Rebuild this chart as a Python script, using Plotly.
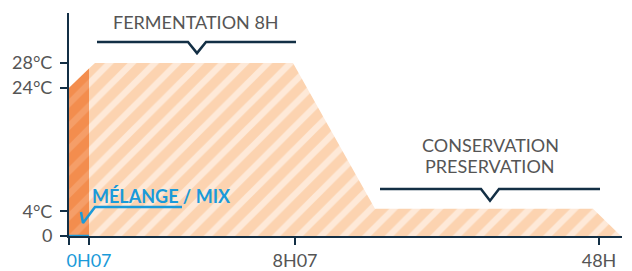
import plotly.graph_objects as go

# ---- data (schematic time positions, temperatures in °C) ----
mix_x = [0, 1.0]
mix_t = [24, 27.1]
profile_x = [1.0, 1.3, 11.2, 15.3, 26.2, 27.6]
profile_t = [27.1, 28, 28, 4.4, 4.4, 0]

x_tickvals = [0, 1.0, 11.3, 26.5]
x_ticktext = ["", "0H07", "8H07", "48H"]
y_tickvals = [0, 4, 24, 28]
y_ticktext = ["0", "4°C", "24°C", "28°C"]

ferm_bracket_x = [1.4, 5.95, 6.4, 6.85, 11.35]
ferm_bracket_t = [31.4, 31.4, 29.6, 31.4, 31.4]
cons_bracket_x = [15.55, 20.6, 21.05, 21.5, 26.55]
cons_bracket_t = [7.6, 7.6, 5.7, 7.6, 7.6]
mix_leader_x = [0.6, 0.7, 1.3, 5.65]
mix_leader_t = [3.9, 2.1, 4.7, 4.7]

PEACH = "#FCD3B0"
ORANGE = "#F38D4E"
BLUE = "#1A9AD9"
NAVY = "#132F45"
GRAY = "#555555"
FONT = "Lato"

fig = go.Figure()

fig.add_trace(go.Scatter(
    x=profile_x, y=profile_t, mode="lines", line=dict(width=0, color=PEACH),
    fill="tozeroy", fillcolor=PEACH,
    fillpattern=dict(shape="/", bgcolor=PEACH, fgcolor="white", size=16, solidity=0.4),
    hoverinfo="skip"))
fig.add_trace(go.Scatter(
    x=mix_x, y=mix_t, mode="lines", line=dict(width=0, color=ORANGE),
    fill="tozeroy", fillcolor=ORANGE,
    fillpattern=dict(shape="/", bgcolor=ORANGE, fgcolor="rgba(255,255,255,0.3)", size=16, solidity=0.4),
    hoverinfo="skip"))

# blue axis segment under the mix phase
fig.add_trace(go.Scatter(x=mix_x, y=[0, 0], mode="lines", line=dict(color=BLUE, width=2.5),
                         cliponaxis=False, hoverinfo="skip"))
# arrow head of the time axis
fig.add_trace(go.Scatter(x=[27.85], y=[0], mode="markers",
                         marker=dict(symbol="triangle-right", size=12, color=NAVY),
                         cliponaxis=False, hoverinfo="skip"))

for bx, bt, col in [(ferm_bracket_x, ferm_bracket_t, NAVY),
                    (cons_bracket_x, cons_bracket_t, NAVY),
                    (mix_leader_x, mix_leader_t, BLUE)]:
    fig.add_trace(go.Scatter(x=bx, y=bt, mode="lines", line=dict(color=col, width=2.5),
                             cliponaxis=False, hoverinfo="skip"))

ann_font = dict(family=FONT, size=18, color=GRAY)
fig.add_annotation(x=6.35, y=34.7, text="FERMENTATION 8H", showarrow=False, font=ann_font)
fig.add_annotation(x=21.05, y=14.7, text="CONSERVATION", showarrow=False, font=ann_font)
fig.add_annotation(x=21.05, y=11.3, text="PRESERVATION", showarrow=False, font=ann_font)
fig.add_annotation(x=1.05, y=6.4, xanchor="left", text="<b>MÉLANGE / MIX</b>", showarrow=False,
                   font=dict(family=FONT, size=18, color=BLUE))

ticktext_x = [f"<span style='color:{BLUE}'>{t}</span>" if t == "0H07" else t for t in x_ticktext]

# the page body adds an 8px offset, so the figure is sized to the visible area
fig.update_layout(
    width=624, height=263,
    margin=dict(l=61, r=10, t=5, b=35, autoexpand=False),
    paper_bgcolor="white", plot_bgcolor="white",
    showlegend=False,
    font=dict(family=FONT, size=18, color=GRAY),
    xaxis=dict(range=[0, 27.65], showgrid=False, zeroline=False, automargin=False,
               showline=True, linecolor=NAVY, linewidth=2,
               ticks="outside", ticklen=7, tickwidth=1.5, tickcolor=NAVY,
               tickvals=x_tickvals, ticktext=ticktext_x,
               tickfont=dict(family=FONT, size=18, color=GRAY)),
    yaxis=dict(range=[0, 36.1], showgrid=False, zeroline=False, automargin=False,
               showline=True, linecolor=NAVY, linewidth=2,
               ticks="outside", ticklen=7, tickwidth=2, tickcolor=NAVY,
               ticklabelstandoff=4,
               tickvals=y_tickvals, ticktext=y_ticktext,
               tickfont=dict(family=FONT, size=18, color=GRAY)),
)

fig.write_html("out.html")
